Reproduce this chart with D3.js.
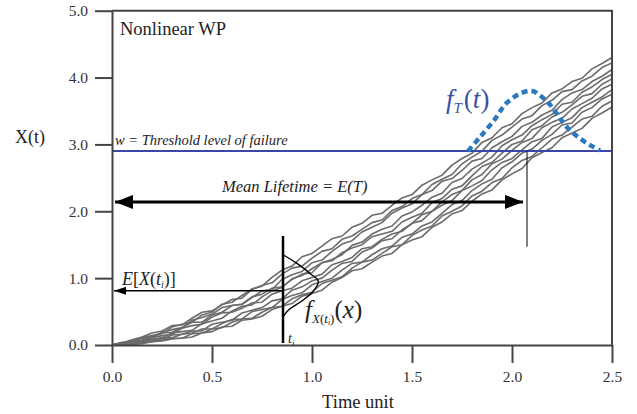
<!DOCTYPE html>
<html><head><meta charset="utf-8">
<script src="https://cdn.jsdelivr.net/npm/d3@7"></script>
<style>body{margin:0;background:#fff}svg{display:block}</style>
</head><body><svg id="c" width="637" height="414"></svg>
<script>
// ---- data ----
const times = [0,0.05,0.1,0.15,0.2,0.25,0.3,0.35,0.4,0.45,0.5,0.55,0.6,0.65,0.7,0.75,0.8,0.85,0.9,0.95,1,1.05,1.1,1.15,1.2,1.25,1.3,1.35,1.4,1.45,1.5,1.55,1.6,1.65,1.7,1.75,1.8,1.85,1.9,1.95,2,2.05,2.1,2.15,2.2,2.25,2.3,2.35,2.4,2.45,2.5];
const path1 = [0,0.04,0.05,0.11,0.14,0.17,0.27,0.31,0.34,0.45,0.49,0.61,0.64,0.74,0.84,0.88,1.01,1.12,1.18,1.32,1.37,1.48,1.59,1.63,1.76,1.82,1.94,1.97,2.09,2.20,2.25,2.39,2.47,2.54,2.69,2.79,2.87,3.03,3.10,3.25,3.31,3.46,3.55,3.62,3.77,3.83,3.94,3.99,4.13,4.21,4.30];
const path2 = [0,0.03,0.08,0.12,0.18,0.21,0.29,0.30,0.40,0.49,0.51,0.60,0.68,0.70,0.83,0.89,0.93,1.06,1.15,1.18,1.30,1.40,1.44,1.58,1.63,1.73,1.83,1.87,2.01,2.07,2.19,2.25,2.40,2.48,2.55,2.71,2.81,2.90,3.06,3.14,3.26,3.38,3.43,3.58,3.66,3.79,3.82,3.95,4.02,4.15,4.22];
const path3 = [0,0.03,0.05,0.07,0.13,0.18,0.19,0.26,0.34,0.34,0.45,0.49,0.59,0.61,0.71,0.81,0.83,0.98,1.05,1.10,1.23,1.27,1.40,1.51,1.56,1.69,1.76,1.83,1.97,2.05,2.11,2.25,2.31,2.45,2.49,2.61,2.75,2.79,2.95,3.04,3.12,3.27,3.33,3.44,3.51,3.67,3.77,3.82,3.94,4.02,4.12];
const path4 = [0,0.03,0.06,0.10,0.11,0.19,0.23,0.26,0.37,0.41,0.46,0.56,0.59,0.61,0.72,0.76,0.85,0.87,0.98,1.06,1.08,1.23,1.28,1.35,1.49,1.54,1.66,1.73,1.78,1.93,1.99,2.09,2.21,2.27,2.43,2.49,2.63,2.72,2.81,2.98,3.07,3.14,3.28,3.37,3.45,3.60,3.63,3.78,3.86,3.97,4.05];
const path5 = [0,0.03,0.03,0.07,0.08,0.11,0.18,0.20,0.22,0.32,0.36,0.40,0.51,0.58,0.60,0.72,0.81,0.86,0.99,1.04,1.14,1.23,1.26,1.38,1.45,1.50,1.62,1.66,1.70,1.84,1.91,1.97,2.13,2.19,2.33,2.38,2.53,2.67,2.73,2.87,3.00,3.05,3.22,3.28,3.41,3.48,3.59,3.72,3.76,3.90,3.98];
const path6 = [0,0.03,0.05,0.06,0.11,0.14,0.16,0.25,0.29,0.31,0.42,0.48,0.49,0.55,0.63,0.64,0.76,0.81,0.85,0.96,1.01,1.06,1.20,1.25,1.31,1.44,1.47,1.58,1.66,1.70,1.82,1.95,2.00,2.14,2.25,2.31,2.47,2.55,2.71,2.78,2.91,3.03,3.09,3.25,3.33,3.39,3.53,3.61,3.69,3.83,3.90];
const path7 = [0,0.01,0.03,0.05,0.08,0.09,0.15,0.16,0.21,0.21,0.31,0.34,0.37,0.48,0.52,0.56,0.66,0.69,0.82,0.87,0.96,1.00,1.12,1.22,1.25,1.39,1.45,1.56,1.59,1.72,1.82,1.86,2.00,2.09,2.16,2.31,2.38,2.46,2.62,2.73,2.79,2.92,3.04,3.09,3.26,3.33,3.40,3.55,3.63,3.71,3.82];
const path8 = [0,0.01,0.02,0.05,0.06,0.10,0.11,0.16,0.18,0.24,0.24,0.32,0.38,0.39,0.50,0.53,0.56,0.68,0.74,0.78,0.90,0.95,1.00,1.12,1.22,1.24,1.35,1.44,1.48,1.61,1.66,1.78,1.84,1.97,2.10,2.16,2.31,2.41,2.48,2.65,2.74,2.87,2.93,3.06,3.15,3.29,3.32,3.48,3.55,3.68,3.75];
const path9 = [0,0.01,0.01,0.04,0.05,0.07,0.10,0.10,0.17,0.18,0.24,0.26,0.34,0.39,0.40,0.49,0.56,0.58,0.69,0.75,0.79,0.92,0.97,1.02,1.15,1.24,1.27,1.37,1.47,1.50,1.64,1.72,1.78,1.93,2.00,2.08,2.23,2.30,2.43,2.49,2.65,2.76,2.82,2.95,3.08,3.14,3.26,3.38,3.42,3.57,3.65];
const path10 = [0,0.00,0.01,0.02,0.05,0.06,0.09,0.10,0.12,0.18,0.20,0.27,0.28,0.37,0.39,0.43,0.53,0.58,0.62,0.73,0.77,0.82,0.94,1.01,1.11,1.14,1.24,1.33,1.37,1.50,1.57,1.62,1.76,1.84,1.96,2.01,2.15,2.26,2.32,2.47,2.56,2.64,2.80,2.88,2.95,3.10,3.17,3.24,3.39,3.47,3.56];
const pathSeries = [path1,path2,path3,path4,path5,path6,path7,path8,path9,path10];

const xMajorTicks = [0,0.5,1,1.5,2,2.5];
const xMinorTicks = [0.25,0.75,1.25,1.75,2.25];
const yMajorTicks = [0,1,2,3,4,5];
const yMinorTicks = [0.5,1.5,2.5,3.5,4.5];

const threshold = 2.9;          // w
const meanLifetime = 2.075;     // E(T)
const meanArrowLevel = 2.14;
const meanDropTo = 1.47;
const ti = 0.855;
const tiTop = 1.63;
const tiBottom = 0.03;
const eXti = 0.81;

const fT_t = [1.78,1.84,1.91,1.97,2.04,2.10,2.15,2.20,2.24,2.29,2.34,2.39,2.44];
const fT_v = [2.90,3.11,3.36,3.61,3.76,3.80,3.71,3.56,3.39,3.21,3.09,2.99,2.91];
const fX_val = [1.35,1.22,1.07,0.95,0.80,0.65,0.53,0.42];
const fX_den = [0.00,0.07,0.135,0.177,0.15,0.09,0.03,0.00];

// ---- drawing ----
const FONT = "'Liberation Serif', Tinos, 'Times New Roman', Times, 'DejaVu Serif', serif";
const svg = d3.select("#c");
svg.append("rect").attr("width",637).attr("height",414).attr("fill","#fff");
const x = d3.scaleLinear().domain([0,2.5]).range([112,612]);
const y = d3.scaleLinear().domain([0,5]).range([345,10.7]);
const axisColor = "#444";

const defs = svg.append("defs");
function marker(id, len, h){
  defs.append("marker").attr("id",id).attr("markerUnits","userSpaceOnUse")
    .attr("markerWidth",len).attr("markerHeight",h).attr("refX",len).attr("refY",h/2)
    .attr("orient","auto-start-reverse").attr("viewBox",`0 0 ${len} ${h}`)
    .append("path").attr("d",`M0,0L${len},${h/2}L0,${h}Z`).attr("fill","#000");
}
marker("bigHead",18,14);
marker("smallHead",12,8);

// random-walk paths
const line = d3.line().x((d,i)=>x(times[i])).y(d=>y(d));
svg.append("g").selectAll("path").data(pathSeries).join("path")
  .attr("d",line).attr("fill","none").attr("stroke","#6b6b6b").attr("stroke-width",1.6)
  .attr("stroke-linejoin","round");

// threshold
svg.append("line").attr("x1",x(0)).attr("x2",x(2.5)).attr("y1",y(threshold)).attr("y2",y(threshold))
  .attr("stroke","#3a47a8").attr("stroke-width",2);

// f_T(t)
const fTline = d3.line().curve(d3.curveCatmullRom).x((d,i)=>x(fT_t[i])).y(d=>y(d));
svg.append("path").attr("d",fTline(fT_v)).attr("fill","none").attr("stroke","#2a79c0")
  .attr("stroke-width",4.5).attr("stroke-dasharray","6,4");

// mean lifetime arrow
svg.append("line").attr("x1",x(meanLifetime)).attr("x2",x(meanLifetime))
  .attr("y1",y(threshold)).attr("y2",y(meanDropTo)).attr("stroke","#000").attr("stroke-width",1);
svg.append("line").attr("x1",x(0)+3).attr("x2",x(meanLifetime)-4)
  .attr("y1",y(meanArrowLevel)).attr("y2",y(meanArrowLevel))
  .attr("stroke","#000").attr("stroke-width",3)
  .attr("marker-start","url(#bigHead)").attr("marker-end","url(#bigHead)");

// t_i line & E[X(t_i)] arrow
svg.append("line").attr("x1",x(ti)).attr("x2",x(ti)).attr("y1",y(tiTop)).attr("y2",y(tiBottom))
  .attr("stroke","#000").attr("stroke-width",2.5);
svg.append("line").attr("x1",x(ti)).attr("x2",x(0)+2).attr("y1",y(eXti)).attr("y2",y(eXti))
  .attr("stroke","#000").attr("stroke-width",1.5).attr("marker-end","url(#smallHead)");

// f_X(t_i)(x)
const fXline = d3.line().curve(d3.curveCatmullRom).x((d,i)=>x(ti+fX_den[i])).y(d=>y(d));
svg.append("path").attr("d",fXline(fX_val)).attr("fill","none").attr("stroke","#000").attr("stroke-width",1.4);

// axes
const gL = svg.append("g").attr("transform",`translate(${x(0)},0)`);
gL.call(d3.axisLeft(y).tickValues(yMinorTicks).tickSize(7).tickSizeOuter(0).tickFormat(""));
gL.call(d3.axisLeft(y).tickValues(yMajorTicks).tickSize(17).tickSizeOuter(0).tickPadding(7).tickFormat(d3.format(".1f")));
const gB = svg.append("g").attr("transform",`translate(0,${y(0)})`);
gB.call(d3.axisBottom(x).tickValues(xMinorTicks).tickSize(10).tickSizeOuter(0).tickFormat(""));
gB.call(d3.axisBottom(x).tickValues(xMajorTicks).tickSize(18).tickSizeOuter(0).tickPadding(8).tickFormat(d3.format(".1f")));
svg.selectAll(".domain, .tick line").attr("stroke",axisColor).attr("stroke-width",2);
gL.attr("font-family",null); gB.attr("font-family",null);
svg.selectAll(".tick text").style("font-family",FONT).attr("font-size",15.5).attr("fill","#333");
// frame top/right
svg.append("path").attr("d",`M${x(0)},${y(5)}H${x(2.5)}V${y(0)}`).attr("fill","none").attr("stroke",axisColor).attr("stroke-width",2);

// texts
const T = (xx,yy,s,size,opts={})=>{
  const t = svg.append("text").attr("x",xx).attr("y",yy).attr("font-size",size)
    .style("font-family",FONT).attr("fill",opts.fill||"#222");
  if(opts.italic) t.attr("font-style","italic");
  if(opts.anchor) t.attr("text-anchor",opts.anchor);
  if(s) t.text(s);
  return t;
};
T(120,35,"Nonlinear WP",18.5);
T(15,143,"X(t)",18);
T(358,408,"Time unit",18.5,{anchor:"middle"});
T(115,145,"w = Threshold level of failure",14.5,{italic:true});
T(222,192,"Mean Lifetime = E(T)",16.5,{italic:true});

const e = T(122,285,null,18);
e.append("tspan").attr("font-style","italic").text("E");
e.append("tspan").text("[");
e.append("tspan").attr("font-style","italic").text("X");
e.append("tspan").text("(");
e.append("tspan").attr("font-style","italic").text("t");
e.append("tspan").attr("font-size",10).attr("dy",3).attr("font-style","italic").text("i");
e.append("tspan").attr("dy",-3).text(")]");

const tl = T(288,343,null,14,{italic:true});
tl.append("tspan").text("t");
tl.append("tspan").attr("font-size",9).attr("dy",3).text("i");

const fx = T(305,318,null,25);
fx.append("tspan").attr("font-style","italic").text("f");
fx.append("tspan").attr("font-size",13).attr("dy",5).attr("font-style","italic").text("X");
fx.append("tspan").attr("font-size",13).text("(");
fx.append("tspan").attr("font-size",13).attr("font-style","italic").text("t");
fx.append("tspan").attr("font-size",8).attr("dy",2).attr("font-style","italic").text("i");
fx.append("tspan").attr("font-size",13).attr("dy",-2).text(")");
fx.append("tspan").attr("dy",-5).text("(");
fx.append("tspan").attr("font-style","italic").text("x");
fx.append("tspan").text(")");

const ft = T(446,108,null,27,{fill:"#3d4f9f"});
ft.append("tspan").attr("font-style","italic").text("f");
ft.append("tspan").attr("font-size",15).attr("dy",5).attr("font-style","italic").text("T");
ft.append("tspan").attr("dy",-5).attr("dx",2).text("(");
ft.append("tspan").attr("font-style","italic").text("t");
ft.append("tspan").text(")");
</script></body></html>
